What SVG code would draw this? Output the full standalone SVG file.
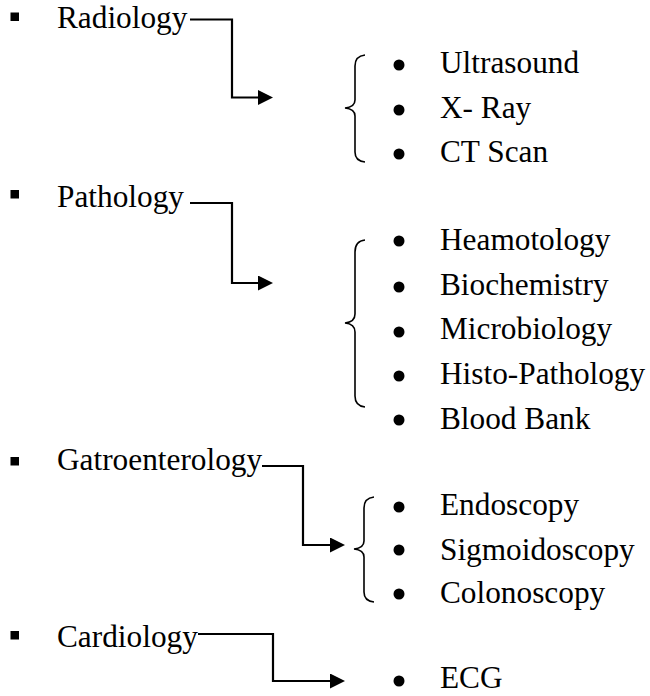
<svg xmlns="http://www.w3.org/2000/svg" width="650" height="696" viewBox="0 0 650 696">
<style>
text{font-family:"Liberation Serif","Times New Roman",serif;font-size:31.3px;fill:#000}
.sq{fill:#000}
.dot{fill:#000}
.conn{fill:none;stroke:#000;stroke-width:2.2}
.brace{fill:none;stroke:#000;stroke-width:1.6}
</style>
<defs>
<marker id="ah" viewBox="0 0 15 15" refX="0" refY="7.5" markerWidth="15" markerHeight="15" markerUnits="userSpaceOnUse" orient="auto">
<path d="M0,0 L15,7.5 L0,15 Z" fill="#000"/>
</marker>
</defs>
<g id="connectors">
<path class="conn" d="M190,19.5 H232 V97.5 H258" marker-end="url(#ah)"/>
<path class="conn" d="M190,203 H232 V283 H258" marker-end="url(#ah)"/>
<path class="conn" d="M262,466 H303 V545 H330" marker-end="url(#ah)"/>
<path class="conn" d="M198,634 H273 V681 H330" marker-end="url(#ah)"/>
</g>
<g id="radiology">
<rect class="sq" x="10.5" y="12.5" width="8.5" height="8.5"/>
<text x="57" y="28">Radiology</text>
</g>
<g id="radiology-list">
<path class="brace" d="M365,55 Q355,56 355,66 V100 Q355,107 345,108 Q355,109 355,116 V152 Q355,161 365,162"/>
<circle class="dot" cx="399" cy="65" r="5.5"/><text x="440" y="73">Ultrasound</text>
<circle class="dot" cx="399" cy="110" r="5.5"/><text x="440" y="118">X- Ray</text>
<circle class="dot" cx="399" cy="154" r="5.5"/><text x="440" y="162">CT Scan</text>
</g>
<g id="pathology">
<rect class="sq" x="10.5" y="190" width="8.5" height="8.5"/>
<text x="57" y="207">Pathology</text>
</g>
<g id="pathology-list">
<path class="brace" d="M365,240 Q355,241 355,252 V314 Q355,322 345,323 Q355,324 355,332 V396 Q355,406 365,407"/>
<circle class="dot" cx="399" cy="241" r="5.5"/><text x="440" y="250">Heamotology</text>
<circle class="dot" cx="399" cy="287" r="5.5"/><text x="440" y="295">Biochemistry</text>
<circle class="dot" cx="399" cy="332" r="5.5"/><text x="440" y="339">Microbiology</text>
<circle class="dot" cx="399" cy="376" r="5.5"/><text x="440" y="384">Histo-Pathology</text>
<circle class="dot" cx="399" cy="420" r="5.5"/><text x="440" y="429">Blood Bank</text>
</g>
<g id="gastroenterology">
<rect class="sq" x="10.5" y="457" width="8.5" height="8.5"/>
<text x="57" y="470">Gatroenterology</text>
</g>
<g id="gastro-list">
<path class="brace" d="M374,497 Q364,498 364,508 V541 Q364,548 354,549 Q364,550 364,557 V592 Q364,601 374,602"/>
<circle class="dot" cx="399" cy="507" r="5.5"/><text x="440" y="515">Endoscopy</text>
<circle class="dot" cx="399" cy="550" r="5.5"/><text x="440" y="560">Sigmoidoscopy</text>
<circle class="dot" cx="399" cy="594" r="5.5"/><text x="440" y="603">Colonoscopy</text>
</g>
<g id="cardiology">
<rect class="sq" x="10.5" y="631" width="8.5" height="8.5"/>
<text x="57" y="647">Cardiology</text>
</g>
<g id="cardiology-list">
<circle class="dot" cx="399" cy="681" r="5.5"/><text x="440" y="688">ECG</text>
</g>
</svg>
